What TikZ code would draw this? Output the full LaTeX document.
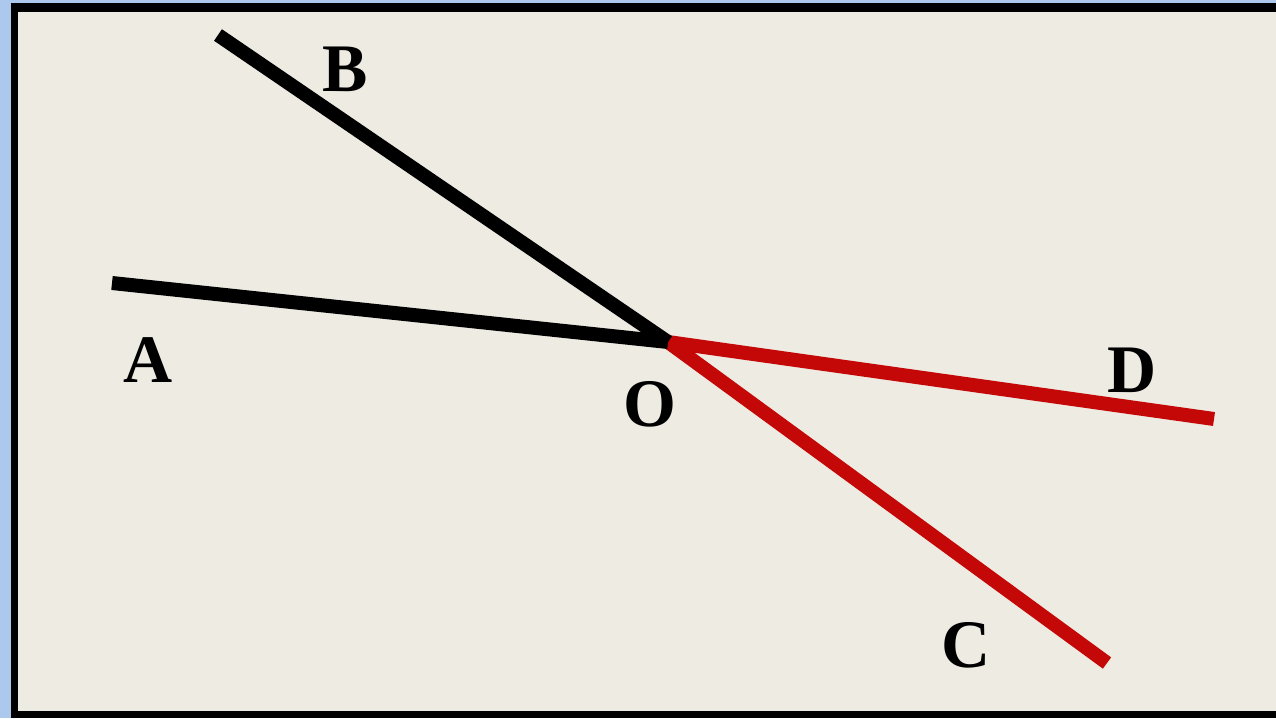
\documentclass[tikz,border=0pt]{standalone}
\usepackage{fontspec}
\setmainfont{Liberation Serif}
\usetikzlibrary{positioning}
\definecolor{paperbg}{RGB}{238,235,227}
\definecolor{frameblue}{RGB}{172,200,236}
\definecolor{rayred}{RGB}{196,8,8}

\begin{document}
\begin{tikzpicture}[
x=1pt, y=-1pt,
ray/.style={
line width=14pt,
draw=black
},
redray/.style={
ray,
draw=rayred
},
lbl/.style={
font=\fontsize{68}{72}\selectfont\bfseries,
inner sep=0pt
}
]

\useasboundingbox (0,0) rectangle (1276,718);
\fill[frameblue] (0,0) rectangle (1276,718);
\fill[black] (11,3) rectangle (1276,718);
\fill[paperbg] (18,12) rectangle (1276,711);

\coordinate (o) at (668,342);
\coordinate (a) at (112,283);
\coordinate (b) at (218,35);
\coordinate (c) at (1107,663);
\coordinate (d) at (1214,419);

\draw[redray] (o) -- (d);
\draw[redray] (o) -- (c);
\draw[ray] (a) -- (o);
\draw[ray] (b) -- (o);

\node[lbl] (la) at (148,360) {A};
\node[lbl] (lb) at (345,69) {B};
\node[lbl] (lo) at (650,404) {O};
\node[lbl] (ld) at (1132,370) {D};
\node[lbl] (lc) at (966,645) {C};

\end{tikzpicture}
\end{document}
